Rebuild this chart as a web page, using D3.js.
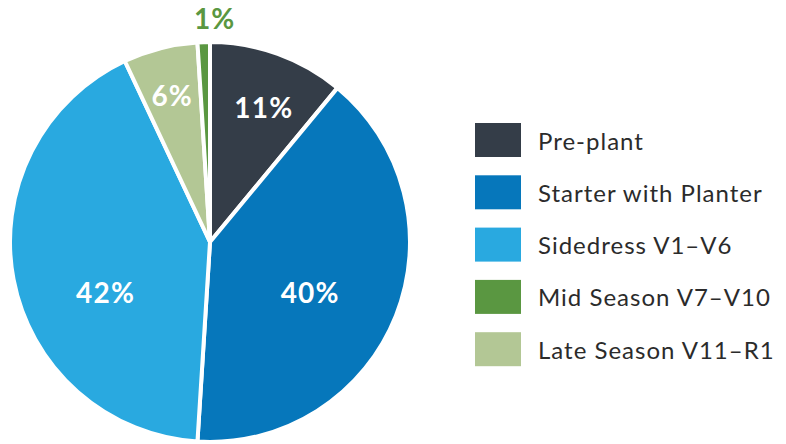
<!DOCTYPE html>
<html>
<head>
<meta charset="utf-8">
<script src="https://cdn.jsdelivr.net/npm/d3@7"></script>
<style>
  html, body { margin: 0; padding: 0; background: #fff; }
  svg { display: block; }
</style>
</head>
<body>
<svg id="chart" width="786" height="444"></svg>
<script>
// Nitrogen application timing shares (percent)
const categories = ["Pre-plant", "Starter with Planter", "Sidedress V1\u2013V6", "Late Season V11\u2013R1", "Mid Season V7\u2013V10"];
const values = [11, 40, 42, 6, 1];
const colors = ["#343d48", "#0677bb", "#29a9e0", "#b3c795", "#5a9741"];

// Legend order differs from slice order
const legendOrder = ["Pre-plant", "Starter with Planter", "Sidedress V1\u2013V6", "Mid Season V7\u2013V10", "Late Season V11\u2013R1"];

const svg = d3.select("#chart");
const cx = 210, cy = 242, R = 200;

const color = d3.scaleOrdinal().domain(categories).range(colors);

const pie = d3.pie().sort(null).value(d => d.value);
const arcs = pie(categories.map((c, i) => ({ name: c, value: values[i] })));
const arc = d3.arc().innerRadius(0).outerRadius(R);

const g = svg.append("g").attr("transform", `translate(${cx},${cy})`);

g.selectAll("path.slice")
  .data(arcs)
  .join("path")
  .attr("class", "slice")
  .attr("d", arc)
  .attr("fill", d => color(d.data.name))
  .attr("stroke", "#fff")
  .attr("stroke-width", 4)
  .attr("stroke-linejoin", "miter");

// Label placement per slice: angular nudge (degrees) and radius
const labelPlace = [
  { dAng: 2, r: 145 },
  { dAng: 5, r: 112 },
  { dAng: -15, r: 116 },
  { dAng: 0, r: 152 },
  { dAng: 3, r: 224 }
];

g.selectAll("text.pct")
  .data(arcs)
  .join("text")
  .attr("class", "pct")
  .each(function (d, i) {
    const mid = (d.startAngle + d.endAngle) / 2 + labelPlace[i].dAng * Math.PI / 180;
    const r = labelPlace[i].r;
    d3.select(this)
      .attr("x", Math.sin(mid) * r)
      .attr("y", -Math.cos(mid) * r);
  })
  .attr("text-anchor", "middle")
  .attr("dominant-baseline", "central")
  .attr("font-family", "Lato, 'Open Sans', sans-serif")
  .attr("font-weight", 700)
  .attr("font-size", 28)
  .attr("letter-spacing", 1.2)
  .attr("fill", (d, i) => i === 4 ? color(d.data.name) : "#fff")
  .text(d => d.value + "%");

// Legend
const legend = svg.append("g").attr("transform", "translate(475,123)");
const row = legend.selectAll("g.item")
  .data(legendOrder)
  .join("g")
  .attr("class", "item")
  .attr("transform", (d, i) => `translate(0,${i * 52.3})`);

row.append("rect")
  .attr("width", 46)
  .attr("height", 34)
  .attr("fill", d => color(d));

row.append("text")
  .attr("x", 63)
  .attr("y", 17)
  .attr("dominant-baseline", "central")
  .attr("font-family", "Lato, 'Open Sans', sans-serif")
  .attr("font-size", 24)
  .attr("letter-spacing", 1)
  .attr("fill", "#2b2b2b")
  .text(d => d);
</script>
</body>
</html>
